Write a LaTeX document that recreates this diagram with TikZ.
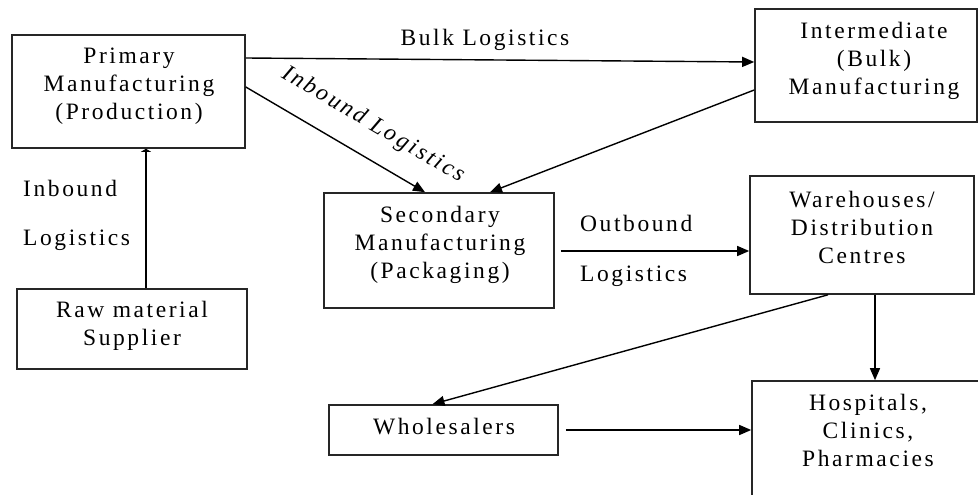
\documentclass[tikz,border=0pt]{standalone}
\usepackage{fontspec}
\setmainfont{Liberation Serif}[LetterSpace=11]
\usetikzlibrary{arrows.meta}

\tikzset{
  box/.style={draw=black!85, line width=1.6pt, rectangle, inner sep=0pt},
  txt/.style={align=center, inner sep=0pt, font=\fontsize{23.5}{28}\selectfont},
  lbl/.style={inner sep=0pt, font=\fontsize{23.5}{28}\selectfont},
  flow/.style={line width=1.4pt, -{Triangle[length=12pt,width=10pt]}},
}

\begin{document}
\begin{tikzpicture}[x=1pt, y=-1pt]
\useasboundingbox (0,0) rectangle (978,495);
\clip (0,0) rectangle (978,495);

% boxes
\node[box, minimum width=233pt, minimum height=113pt] (prim)  at (128.5,91.5) {};
\node[box, minimum width=222pt, minimum height=113pt] (inter) at (866,65.5) {};
\node[box, minimum width=230pt, minimum height=115pt] (sec)   at (439,250.5) {};
\node[box, minimum width=224pt, minimum height=118pt] (ware)  at (862,235) {};
\node[box, minimum width=230pt, minimum height=80pt]  (raw)   at (132,329) {};
\node[box, minimum width=229pt, minimum height=50pt]  (whole) at (443.5,430) {};
\node[box, minimum width=238pt, minimum height=129pt] (hosp)  at (871,445.5) {};

% box texts
\node[txt] (primT)  at (129,86)  {Primary\\Manufacturing\\(Production)};
\node[txt] (interT) at (874,61)  {Intermediate\\(Bulk)\\Manufacturing};
\node[txt] (secT)   at (440,245) {Secondary\\Manufacturing\\(Packaging)};
\node[txt] (wareT)  at (862,227) {Warehouses/\\Distribution\\Centres};
\node[txt] (rawT)   at (132,326) {Raw material\\Supplier};
\node[txt] (wholeT) at (444,427) {Wholesalers};
\node[txt] (hospT)  at (868,430) {Hospitals,\\Clinics,\\Pharmacies};

% connector labels
\node[lbl] (bulkL) at (485,40) {Bulk Logistics};
\node[lbl, rotate=-30.5] (inbL) at (373,125) {\itshape Inbound Logistics};
\node[lbl, anchor=west] (inA) at (23,188) {Inbound};
\node[lbl, anchor=west] (inB) at (23,240) {Logistics};
\node[lbl, anchor=west] (outA) at (580,223) {Outbound};
\node[lbl, anchor=west] (outB) at (580,276) {Logistics};

% connectors
\draw[flow] ([yshift=33.5pt]prim.east) -- ([yshift=3.5pt]inter.west);
\draw[flow] ([yshift=4.5pt]prim.east) -- ([xshift=-14pt]sec.north);
\draw[flow] ([yshift=-24.5pt]inter.west) -- ([xshift=51pt]sec.north);
\draw[flow] ([xshift=6pt,yshift=-0.5pt]sec.east) -- ([yshift=-16pt]ware.west);
\draw[flow] ([xshift=-34pt]ware.south) -- ([xshift=-11pt]whole.north);
\draw[flow] ([xshift=13pt]ware.south) -- ([xshift=13pt]ware.south |- hosp.north);
\draw[flow] ([xshift=7pt]whole.east) -- (whole.east -| hosp.west);
\draw[line width=1.4pt, -{Triangle[length=3pt,width=10pt]}]
  ([xshift=14pt]raw.north) -- ([xshift=14pt]raw.north |- prim.south);
\end{tikzpicture}
\end{document}
